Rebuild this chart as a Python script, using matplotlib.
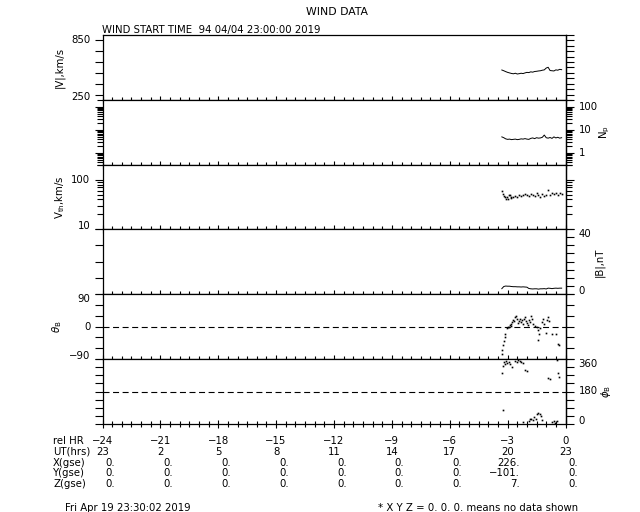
import matplotlib
matplotlib.use("Agg")
import matplotlib.pyplot as plt
from matplotlib import transforms
from matplotlib.ticker import FixedLocator, MultipleLocator, LogLocator, NullFormatter

plt.rcParams['font.family'] = ['DejaVu Sans']
plt.rcParams['font.size'] = 7.3

# ---- data ----
t_line = [-3.3, -3.2, -3.1, -3.0, -2.9, -2.8, -2.7, -2.6, -2.5, -2.4, -2.3, -2.2,
          -2.1, -2.0, -1.9, -1.8, -1.7, -1.6, -1.5, -1.4, -1.3, -1.2, -1.1, -1.0,
          -0.9, -0.8, -0.7, -0.6, -0.5, -0.4, -0.3, -0.2]
v_kms = [527, 520, 512, 505, 500, 495, 492, 497, 490, 493, 497, 494,
         500, 505, 503, 510, 507, 513, 515, 518, 520, 525, 528, 545,
         552, 522, 520, 518, 528, 525, 533, 530]
np_cc = [5.0, 4.6, 4.1, 3.9, 4.0, 3.8, 3.9, 4.0, 3.8, 3.9, 4.1, 4.0,
         4.2, 4.0, 3.9, 4.3, 4.5, 4.2, 4.6, 4.4, 4.5, 4.8, 6.0, 4.6,
         4.4, 4.7, 4.3, 5.0, 4.5, 4.8, 4.4, 4.6]
b_nt = [3.3, 4.6, 4.9, 4.8, 4.8, 4.6, 4.5, 4.5, 4.4, 4.4, 4.3, 4.4,
        4.3, 4.2, 3.4, 3.2, 3.1, 3.2, 3.2, 3.0, 3.2, 3.2, 3.3, 3.1,
        3.6, 3.5, 3.3, 3.5, 3.6, 3.5, 3.6, 3.6]

vth_t = [-3.30, -3.25, -3.20, -3.15, -3.10, -3.05, -3.00, -2.95, -2.90, -2.85,
         -2.80, -2.70, -2.60, -2.50, -2.40, -2.30, -2.20, -2.10, -2.00, -1.90,
         -1.80, -1.70, -1.60, -1.50, -1.40, -1.30, -1.20, -1.10, -1.00, -0.90,
         -0.80, -0.70, -0.60, -0.50, -0.40, -0.30, -0.20]
vth_kms = [58, 52, 47, 44, 41, 45, 40, 48, 50, 44,
           42, 45, 47, 44, 49, 46, 48, 52, 50, 47,
           51, 49, 46, 53, 48, 44, 52, 47, 50, 62,
           49, 53, 51, 55, 50, 54, 52]

theta_t = [-3.30, -3.27, -3.22, -3.18, -3.15, -3.12, -3.05, -3.00, -2.95, -2.90,
           -2.85, -2.80, -2.75, -2.70, -2.65, -2.60, -2.55, -2.50, -2.45, -2.40,
           -2.35, -2.30, -2.25, -2.20, -2.15, -2.10, -2.05, -2.00, -1.95, -1.90,
           -1.85, -1.80, -1.75, -1.70, -1.60, -1.50, -1.45, -1.40, -1.35, -1.30,
           -1.20, -1.15, -1.10, -1.00, -0.95, -0.90, -0.85, -0.70, -0.50, -0.40,
           -0.35]
theta_deg = [-75, -65, -52, -40, -30, -20, -5, -2, 0, 5,
             8, 2, 12, 18, 15, 25, 28, 20, 10, 15,
             22, 12, 18, 8, 20, 25, 15, 10, 5, 18,
             12, 30, 20, 8, 2, 0, -10, -38, -22, -5,
             12, 20, 8, -18, 18, 25, 15, -20, -22, -48,
             -52]

phi_t = [-3.31, -3.25, -3.20, -3.14, -3.08, -3.02, -2.95, -2.90, -2.79, -2.60,
         -2.52, -2.45, -2.38, -2.30, -2.22, -2.10, -2.02, -0.89, -0.82, -0.46,
         -0.38, -0.35, -3.22, -2.19, -1.90, -1.84, -1.78, -1.70, -1.62, -1.55,
         -1.48, -1.40, -1.34, -1.28, -1.20, -0.70, -0.62, -0.52, -0.46]
phi_deg = [285, 320, 345, 335, 350, 340, 345, 330, 316, 350,
           346, 352, 348, 345, 340, 300, 292, 255, 250, 352,
           280, 260, 76, 11, 18, 25, 30, 20, 40, 28,
           55, 62, 58, 45, 22, 12, 15, 8, 18]

rel_hr = [-24, -21, -18, -15, -12, -9, -6, -3, 0]
ut_hrs = [23, 2, 5, 8, 11, 14, 17, 20, 23]
x_gse = [0, 0, 0, 0, 0, 0, 0, 226, 0]
y_gse = [0, 0, 0, 0, 0, 0, 0, -101, 0]
z_gse = [0, 0, 0, 0, 0, 0, 0, 7, 0]

# ---- layout (pixels of the 640x512 picture) ----
W, H = 640.0, 512.0
X0, X1 = 102.5, 565.5
edges = [35, 100, 165, 229, 294, 359, 424]

fig = plt.figure(figsize=(6.4, 5.12), dpi=100)
fig.patch.set_facecolor('white')


def make_panel(i):
    top, bot = edges[i], edges[i + 1]
    ax = fig.add_axes([X0 / W, 1 - bot / H, (X1 - X0) / W, (bot - top) / H])
    ax.set_xlim(-24, 0)
    for s in ax.spines.values():
        s.set_linewidth(0.9)
    ax.xaxis.set_major_locator(MultipleLocator(3))
    ax.xaxis.set_minor_locator(MultipleLocator(0.5))
    ax.tick_params(axis='x', which='both', direction='inout', bottom=True, top=False,
                   labelbottom=False, width=0.8)
    ax.tick_params(axis='x', which='major', length=6)
    ax.tick_params(axis='x', which='minor', length=4)
    ax.tick_params(axis='y', which='both', direction='out', left=True, right=False,
                   labelleft=False, width=0.8)
    ax.tick_params(axis='y', which='major', length=6)
    ax.tick_params(axis='y', which='minor', length=4.2)
    return ax


def right_axis(ax, major, minor=None, log=False):
    sec = ax.secondary_yaxis('right')
    sec.spines['right'].set_linewidth(0.9)
    if log:
        sec.set_yscale('log')
    sec.yaxis.set_major_locator(FixedLocator(major))
    if minor is not None:
        sec.yaxis.set_minor_locator(minor)
    sec.yaxis.set_major_formatter(NullFormatter())
    sec.yaxis.set_minor_formatter(NullFormatter())
    sec.tick_params(axis='y', which='both', direction='out', width=0.8)
    sec.tick_params(axis='y', which='major', length=6)
    sec.tick_params(axis='y', which='minor', length=4.2)
    return sec


def ylabels(ax, vals, texts, side):
    # tick labels, the end ones nudged inside the panel like the original
    lo, hi = ax.get_ylim()
    base = transforms.blended_transform_factory(ax.transAxes, ax.transData)
    for v, s in zip(vals, texts):
        dy = 0
        if v == hi:
            dy = -5
        elif v == lo:
            dy = 3
        if side == 'left':
            tr = transforms.offset_copy(base, fig=fig, x=-12, y=dy, units='dots')
            ax.text(0, v, s, transform=tr, ha='right', va='center')
        else:
            tr = transforms.offset_copy(base, fig=fig, x=13, y=dy, units='dots')
            ax.text(1, v, s, transform=tr, ha='left', va='center')


# panel 1: |V|
ax1 = make_panel(0)
ax1.plot(t_line, v_kms, color='black', lw=0.7)
ax1.set_ylim(250, 850)
ax1.yaxis.set_major_locator(MultipleLocator(100))
right_axis(ax1, list(range(250, 851, 50)))
ylabels(ax1, [850, 250], ['850', '250'], 'left')
fig.text(60 / W, 1 - 67 / H, '|V|,km/s', rotation=90, ha='center', va='center')

# panel 2: Np (log)
ax2 = make_panel(1)
ax2.set_yscale('log')
ax2.plot(t_line, np_cc, color='black', lw=0.7)
ax2.set_ylim(0.3, 200)
ax2.yaxis.set_major_locator(FixedLocator([1, 10, 100]))
ax2.yaxis.set_minor_locator(LogLocator(base=10, subs=range(2, 10)))
ax2.yaxis.set_minor_formatter(NullFormatter())
right_axis(ax2, [1, 10, 100], LogLocator(base=10, subs=range(2, 10)), log=True)
ylabels(ax2, [100, 10, 1], ['100', '10', '1'], 'right')
fig.text(605 / W, 1 - 132 / H, r'N$_{\rm p}$', rotation=90, ha='center', va='center')

# panel 3: Vth (log)
ax3 = make_panel(2)
ax3.set_yscale('log')
ax3.plot(vth_t, vth_kms, ls='none', marker='s', ms=1.2, mew=0, color='black')
ax3.set_ylim(10, 200)
ax3.yaxis.set_major_locator(FixedLocator([10, 100]))
ax3.yaxis.set_minor_locator(LogLocator(base=10, subs=range(2, 10)))
ax3.yaxis.set_minor_formatter(NullFormatter())
right_axis(ax3, [10, 100], LogLocator(base=10, subs=range(2, 10)), log=True)
ylabels(ax3, [100, 10], ['100', '10'], 'left')
fig.text(60 / W, 1 - 197 / H, r'V$_{\rm th}$,km/s', rotation=90, ha='center', va='center')

# panel 4: |B|
ax4 = make_panel(3)
ax4.plot(t_line, b_nt, color='black', lw=0.7)
ax4.set_ylim(0, 40)
ax4.yaxis.set_major_locator(MultipleLocator(10))
right_axis(ax4, list(range(0, 41, 5)))
ylabels(ax4, [40, 0], ['40', '0'], 'right')
fig.text(599 / W, 1 - 262 / H, '|B|,nT', rotation=90, ha='center', va='center')

# panel 5: theta_B
ax5 = make_panel(4)
ax5.axhline(0, color='black', lw=0.8, ls=(0, (5.4, 3.2)))
ax5.plot(theta_t, theta_deg, ls='none', marker='s', ms=1.2, mew=0, color='black')
ax5.set_ylim(-90, 90)
ax5.yaxis.set_major_locator(MultipleLocator(30))
right_axis(ax5, list(range(-90, 91, 30)))
ylabels(ax5, [90, 0, -90], ['90', '0', '\u221290'], 'left')
fig.text(57 / W, 1 - 327 / H, r'$\theta_{\rm B}$', rotation=90, ha='center', va='center')

# panel 6: phi_B
ax6 = make_panel(5)
ax6.axhline(180, color='black', lw=0.8, ls=(0, (5.4, 3.2)))
ax6.plot(phi_t, phi_deg, ls='none', marker='s', ms=1.2, mew=0, color='black')
ax6.set_ylim(0, 360)
ax6.yaxis.set_major_locator(MultipleLocator(45))
right_axis(ax6, list(range(0, 361, 45)))
ylabels(ax6, [360, 180, 0], ['360', '180', '0'], 'right')
fig.text(606 / W, 1 - 391 / H, r'$\phi_{\rm B}$', rotation=90, ha='center', va='center')

# ---- titles ----
fig.text(337 / W, 1 - 12 / H, 'WIND DATA', ha='center', va='center', fontsize=7.8)
fig.text(X0 / W, 1 - 33 / H, 'WIND START TIME  94 04/04 23:00:00 2019', ha='left', va='baseline')

# ---- table under the panels ----
rows_y = [441, 451.7, 462.7, 473.3, 484.3]
row_names = ['rel HR', 'UT(hrs)', 'X(gse)', 'Y(gse)', 'Z(gse)']
for name, y in zip(row_names, rows_y):
    fig.text(53 / W, 1 - y / H, name, ha='left', va='center')

tb = transforms.blended_transform_factory(ax6.transData, fig.transFigure)
tb_right = transforms.offset_copy(tb, fig=fig, x=12.5, y=0, units='dots')


def fmt(v):
    s = '%d.' % v
    return s.replace('-', '\u2212')


for i, h in enumerate(rel_hr):
    fig.text(h, 1 - rows_y[0] / H, str(h).replace('-', '\u2212'), transform=tb, ha='center', va='center')
    fig.text(h, 1 - rows_y[1] / H, str(ut_hrs[i]), transform=tb, ha='center', va='center')
    fig.text(h, 1 - rows_y[2] / H, fmt(x_gse[i]), transform=tb_right, ha='right', va='center')
    fig.text(h, 1 - rows_y[3] / H, fmt(y_gse[i]), transform=tb_right, ha='right', va='center')
    fig.text(h, 1 - rows_y[4] / H, fmt(z_gse[i]), transform=tb_right, ha='right', va='center')

fig.text(65 / W, 1 - 508 / H, 'Fri Apr 19 23:30:02 2019', ha='left', va='center')
fig.text(578 / W, 1 - 508 / H, '* X Y Z = 0. 0. 0. means no data shown', ha='right', va='center')

fig.savefig('out.png', dpi=100, facecolor='white')
